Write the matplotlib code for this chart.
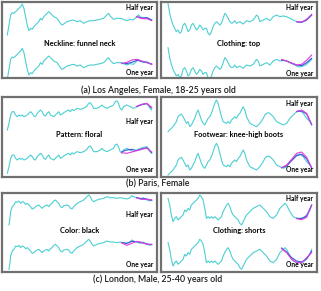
import matplotlib
matplotlib.use("Agg")
import matplotlib.pyplot as plt

plt.rcParams['font.family'] = ['Lato', 'DejaVu Sans']

# ---- data (popularity level vs. week index) ----
la_neck_t = [20, 25, 30, 35, 40, 45, 50, 55, 60, 65, 70, 75, 80, 85, 90, 95, 100, 110, 115, 120,
             125, 130, 135, 140, 145, 150, 155, 160, 170, 180, 185, 190, 200, 210, 220, 230, 240,
             250, 260, 270, 280, 290, 300, 310, 320, 325, 330, 340, 350, 360, 370, 380, 390, 400,
             410, 415, 420, 430, 440, 450, 455]
la_neck_v = [35, 65, 95, 102, 100, 105, 110, 115, 120, 128, 115, 90, 65, 48, 55, 52, 60, 70, 75, 85,
             80, 90, 95, 100, 105, 100, 95, 90, 85, 70, 65, 68, 75, 78, 80, 75, 78,
             70, 75, 78, 78, 80, 82, 85, 95, 100, 92, 82, 85, 85, 82, 78, 82, 80,
             90, 95, 90, 85, 88, 82, 80]

la_top_t = [25, 30, 35, 40, 45, 50, 55, 60, 65, 70, 75, 80, 85, 90, 95, 100, 105, 110, 115, 120,
            125, 130, 135, 140, 145, 150, 155, 160, 165, 170, 175, 180, 185, 190, 195, 200, 205,
            210, 215, 220, 225, 230, 240, 250, 260, 270, 280, 290, 295, 300, 310, 320, 330, 340,
            350, 360, 370, 380, 390, 400, 410, 420, 430, 440, 450, 455]
la_top_v = [130, 100, 80, 65, 55, 45, 50, 40, 45, 65, 70, 60, 45, 50, 65, 70, 60, 50, 55, 65,
            60, 50, 55, 55, 40, 35, 45, 60, 70, 75, 70, 65, 70, 85, 100, 95, 85,
            75, 70, 72, 78, 70, 75, 68, 78, 75, 80, 95, 90, 75, 80, 85, 78, 90,
            95, 90, 92, 90, 85, 80, 75, 72, 75, 80, 90, 95]

paris_floral_t = [20, 25, 30, 35, 40, 45, 50, 55, 60, 65, 70, 75, 80, 85, 90, 95, 100, 105, 110, 115,
                  120, 125, 130, 135, 140, 145, 150, 160, 165, 170, 175, 180, 185, 190, 200, 205,
                  210, 215, 220, 230, 240, 250, 260, 265, 270, 275, 280, 290, 300, 305, 310, 320,
                  330, 340, 345, 350, 355, 360, 365, 370, 380, 390, 400, 405, 410, 420, 430, 440,
                  445, 450, 455]
paris_floral_v = [20, 40, 65, 75, 75, 65, 60, 65, 62, 65, 60, 62, 65, 70, 75, 70, 62, 60, 70, 75,
                  80, 75, 65, 62, 70, 75, 65, 60, 65, 70, 75, 65, 68, 72, 78, 80,
                  75, 82, 78, 85, 82, 85, 92, 100, 102, 95, 85, 85, 90, 95, 90, 85,
                  90, 95, 105, 108, 100, 85, 80, 90, 95, 90, 85, 88, 90, 95, 98, 100,
                  95, 85, 80]

paris_boots_t = [25, 30, 40, 50, 55, 60, 65, 70, 75, 80, 85, 90, 95, 100, 105, 110, 115, 120, 125, 130,
                 135, 140, 145, 150, 155, 160, 165, 170, 175, 180, 185, 190, 200, 205, 210, 215,
                 220, 225, 230, 235, 240, 245, 250, 255, 260, 265, 270, 280, 290, 300, 310, 315,
                 320, 325, 330, 340, 350, 360, 370, 380, 390, 400, 410, 420, 430, 440, 450, 455]
paris_boots_v = [15, 20, 30, 45, 60, 65, 68, 60, 50, 40, 45, 30, 35, 45, 55, 70, 80, 65, 50, 40,
                 35, 45, 55, 60, 70, 85, 100, 110, 100, 80, 60, 45, 40, 45, 40, 50,
                 55, 60, 55, 65, 70, 80, 90, 80, 60, 50, 40, 35, 30, 40, 55, 65,
                 70, 72, 70, 60, 45, 40, 35, 40, 55, 65, 75, 78, 70, 55, 45, 35]

london_black_t = [25, 28, 30, 35, 40, 45, 50, 55, 60, 65, 70, 75, 80, 85, 90, 95, 100, 105, 110, 115,
                  120, 125, 130, 135, 140, 145, 150, 155, 160, 165, 170, 175, 180, 185, 190, 200,
                  205, 210, 215, 220, 230, 240, 250, 255, 260, 265, 270, 275, 280, 290, 300, 310,
                  320, 330, 340, 350, 360, 370, 380, 390, 395, 400, 410, 420, 430, 440, 450, 455]
london_black_v = [20, 40, 60, 75, 80, 90, 88, 92, 85, 90, 88, 82, 85, 80, 75, 68, 70, 75, 78, 80,
                  75, 70, 75, 78, 80, 75, 82, 85, 92, 95, 90, 85, 75, 72, 78, 80,
                  78, 70, 68, 75, 85, 90, 95, 100, 105, 110, 105, 95, 90, 95, 98, 100,
                  105, 102, 102, 100, 102, 100, 98, 102, 108, 105, 102, 98, 102, 95, 92, 95]

london_shorts_t = [25, 30, 35, 40, 45, 50, 55, 60, 65, 70, 75, 80, 85, 90, 95, 100, 105, 110, 115, 120,
                   125, 130, 135, 140, 145, 150, 155, 160, 165, 170, 175, 180, 185, 190, 195, 200,
                   205, 210, 215, 220, 225, 230, 235, 240, 245, 250, 255, 260, 270, 280, 290, 300,
                   310, 320, 330, 340, 350, 360, 370, 375, 380, 385, 390, 400, 410, 420, 430, 440,
                   450, 455]
london_shorts_v = [100, 80, 50, 30, 40, 45, 35, 40, 45, 50, 65, 60, 70, 65, 80, 85, 90, 95, 100, 110,
                   105, 95, 70, 40, 45, 40, 45, 40, 45, 40, 35, 40, 45, 60, 70, 80,
                   85, 75, 60, 50, 45, 40, 35, 25, 20, 30, 40, 50, 60, 70, 75, 80,
                   70, 60, 45, 40, 50, 70, 80, 85, 80, 70, 60, 45, 40, 40, 42, 50,
                   65, 80]

# forecast windows
half_t = [410, 425, 440, 455]
year_t = [365, 380, 395, 410, 425, 440, 455]

la_neck_half_blue = [90, 86, 87, 80]
la_neck_half_mag = [90, 84, 84, 78]
la_neck_year_blue = [84, 82, 86, 92, 89, 86, 81]
la_neck_year_mag = [82, 86, 93, 95, 90, 85, 80]

la_top_half_blue = [75, 73, 80, 95]
la_top_half_mag = [75, 74, 82, 97]
la_top_year_blue = [93, 90, 84, 78, 76, 85, 98]
la_top_year_mag = [95, 90, 83, 78, 80, 92, 108]

paris_floral_half_blue = [90, 96, 99, 86]
paris_floral_half_mag = [91, 97, 100, 88]
paris_floral_year_blue = [85, 90, 92, 88, 93, 97, 82]
paris_floral_year_mag = [82, 80, 84, 88, 92, 96, 84]

paris_boots_half_blue = [75, 77, 68, 36]
paris_boots_half_mag = [76, 80, 70, 37]
paris_boots_year_blue = [37, 42, 58, 73, 77, 64, 36]
paris_boots_year_mag = [37, 45, 62, 80, 84, 68, 37]

london_black_half_blue = [102, 99, 98, 94]
london_black_half_mag = [101, 97, 97, 95]
london_black_year_blue = [100, 98, 104, 103, 100, 96, 94]
london_black_year_mag = [99, 92, 98, 104, 101, 95, 95]

london_shorts_half_blue = [40, 39, 47, 80]
london_shorts_half_mag = [39, 36, 43, 80]
london_shorts_year_blue = [84, 72, 55, 45, 42, 52, 75]
london_shorts_year_mag = [82, 70, 50, 40, 40, 55, 70]

titles = ["Neckline: funnel neck", "Clothing: top", "Pattern: floral",
          "Footwear: knee-high boots", "Color: black", "Clothing: shorts"]
captions = ["(a) Los Angeles, Female, 18-25 years old", "(b) Paris, Female",
            "(c) London, Male, 25-40 years old"]

panels = [
    (la_neck_t, la_neck_v, la_neck_half_blue, la_neck_half_mag, la_neck_year_blue, la_neck_year_mag),
    (la_top_t, la_top_v, la_top_half_blue, la_top_half_mag, la_top_year_blue, la_top_year_mag),
    (paris_floral_t, paris_floral_v, paris_floral_half_blue, paris_floral_half_mag,
     paris_floral_year_blue, paris_floral_year_mag),
    (paris_boots_t, paris_boots_v, paris_boots_half_blue, paris_boots_half_mag,
     paris_boots_year_blue, paris_boots_year_mag),
    (london_black_t, london_black_v, london_black_half_blue, london_black_half_mag,
     london_black_year_blue, london_black_year_mag),
    (london_shorts_t, london_shorts_v, london_shorts_half_blue, london_shorts_half_mag,
     london_shorts_year_blue, london_shorts_year_mag),
]

# ---- layout (pixels) ----
W, H = 321, 291
fig = plt.figure(figsize=(W / 100, H / 100), dpi=100)

rows_px = [(2, 78), (97, 177), (193, 272)]        # top, bottom of each row
cols_px = [(2, 157), (161, 317)]
ylims = [(-94, 134), (-121, 119), (-121, 116)]
offsets = [133, 130, 133]
half_y = [[0.925, 0.925], [0.69, 0.92], [0.73, 0.93]]
one_y = [[0.07, 0.06], [0.09, 0.09], [0.1, 0.1]]
title_y = [0.46, 0.525, 0.52]
caption_y = [90, 184, 279]

cyan = "#4dcfd2"
blue = "#3a55d8"
mag = "#e03ce0"

for i, (t, v, hb, hm, yb, ym) in enumerate(panels):
    r, c = divmod(i, 2)
    top, bot = rows_px[r]
    left, right = cols_px[c]
    ax = fig.add_axes([left / W, 1 - bot / H, (right - left) / W, (bot - top) / H])
    off = offsets[r]
    # upper copy: half-year forecast, lower copy: one-year forecast
    ax.plot(t, v, color=cyan, lw=0.8)
    ax.plot(t, [x - off for x in v], color=cyan, lw=0.8)
    ax.plot(half_t, hb, color=blue, lw=0.8)
    ax.plot(half_t, hm, color=mag, lw=0.8)
    ax.plot(year_t, [x - off for x in yb], color=blue, lw=0.8)
    ax.plot(year_t, [x - off for x in ym], color=mag, lw=0.8)
    ax.set_xlim(4, 471)
    ax.set_ylim(*ylims[r])
    ax.set_xticks([])
    ax.set_yticks([])
    for s in ax.spines.values():
        s.set_color("#707070")
        s.set_linewidth(1.6)
    ax.text(0.5, title_y[r], titles[i], transform=ax.transAxes, ha="center", va="center",
            fontsize=5.3, fontweight="bold")
    ax.text(0.975, half_y[r][c], "Half year", transform=ax.transAxes, ha="right", va="center",
            fontsize=4.8, fontweight="bold")
    ax.text(0.975, one_y[r][c], "One year", transform=ax.transAxes, ha="right", va="center",
            fontsize=4.8, fontweight="bold")

for r in range(3):
    fig.text(158 / W, 1 - caption_y[r] / H, captions[r], ha="center", va="center",
             fontsize=6.3, fontweight="semibold", color="#1a1a1a")

fig.savefig("out.png", dpi=100)
